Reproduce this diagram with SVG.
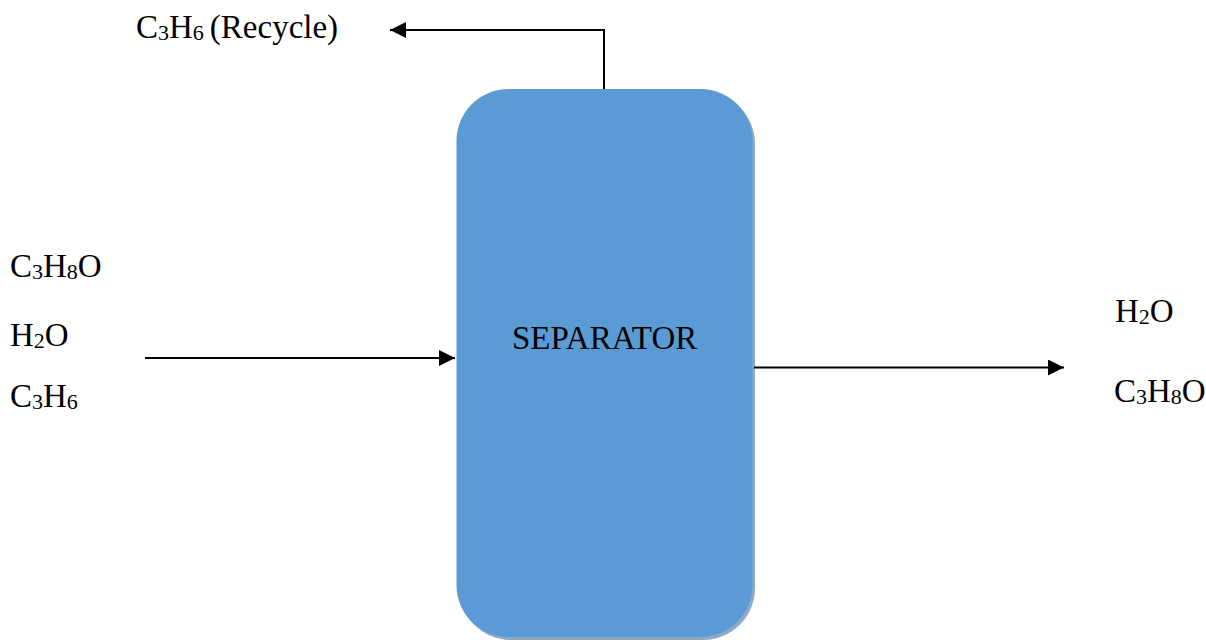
<svg xmlns="http://www.w3.org/2000/svg" width="1206" height="643" viewBox="0 0 1206 643">
<style>
.t{font-family:"Liberation Serif","Times New Roman",serif;font-size:33px;fill:#000}
.s{font-size:22px}
.ln{stroke:#000;stroke-width:2;fill:none}
</style>
<defs>
<marker id="ah" viewBox="0 0 16 16" refX="16" refY="8" markerWidth="16" markerHeight="16" markerUnits="userSpaceOnUse" orient="auto">
<path d="M0,0 L16,8 L0,16 Z" fill="#000"/>
</marker>
</defs>
<rect width="1206" height="643" fill="#fff"/>
<g id="separator">
<rect x="459" y="92" width="296" height="548" rx="52" ry="52" fill="#8FA8C6"/>
<rect x="456.5" y="89" width="296" height="548" rx="52" ry="52" fill="#5B9BD5"/>
<text class="t" x="512" y="349">SEPARATOR</text>
</g>
<g id="connectors">
<path class="ln" d="M604,89 V30 H390" marker-end="url(#ah)"/>
<path class="ln" d="M145,358 H455" marker-end="url(#ah)"/>
<path class="ln" d="M754,367.5 H1064" marker-end="url(#ah)"/>
</g>
<g id="recycle-label">
<text class="t" x="136" y="38">C<tspan class="s" dy="2">3</tspan><tspan dy="-2">H</tspan><tspan class="s" dy="2">6</tspan><tspan dy="-2" dx="6">(Recycle)</tspan></text>
</g>
<g id="feed-labels">
<text class="t" x="10" y="277">C<tspan class="s" dy="2">3</tspan><tspan dy="-2">H</tspan><tspan class="s" dy="2">8</tspan><tspan dy="-2">O</tspan></text>
<text class="t" x="10" y="346">H<tspan class="s" dy="2">2</tspan><tspan dy="-2">O</tspan></text>
<text class="t" x="10" y="407">C<tspan class="s" dy="2">3</tspan><tspan dy="-2">H</tspan><tspan class="s" dy="2">6</tspan></text>
</g>
<g id="product-labels">
<text class="t" x="1115" y="322">H<tspan class="s" dy="2">2</tspan><tspan dy="-2">O</tspan></text>
<text class="t" x="1114" y="402">C<tspan class="s" dy="2">3</tspan><tspan dy="-2">H</tspan><tspan class="s" dy="2">8</tspan><tspan dy="-2">O</tspan></text>
</g>
</svg>
